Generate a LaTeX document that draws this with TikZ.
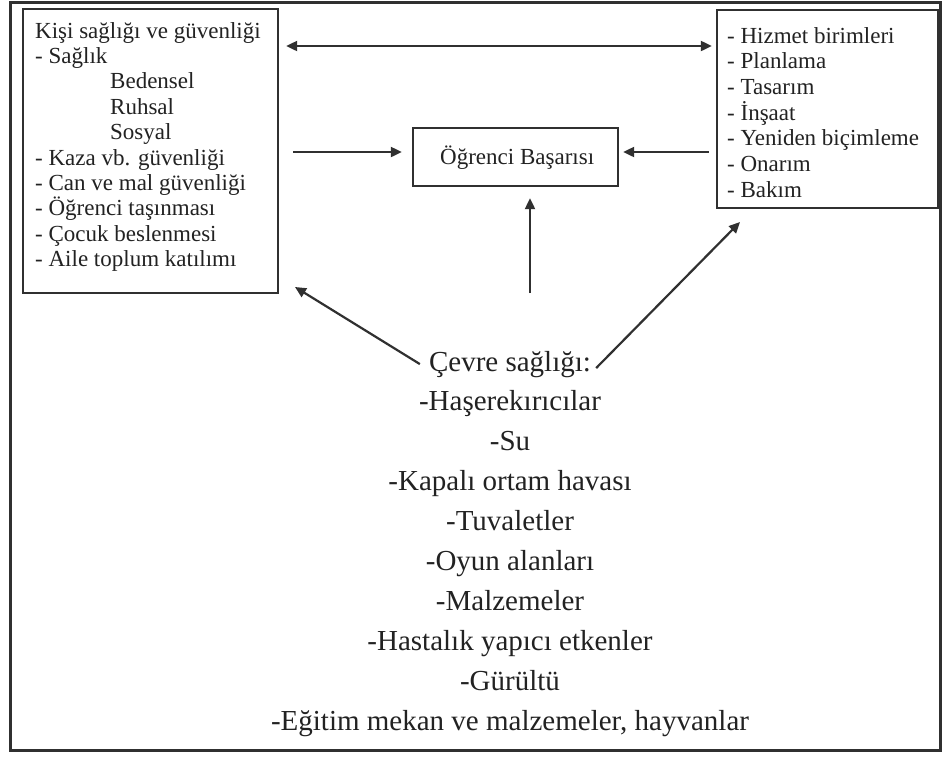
\documentclass[tikz,border=0pt]{standalone}
\usepackage{fontspec}
\setmainfont{Liberation Serif}
\usetikzlibrary{arrows.meta}
\definecolor{ink}{HTML}{222222}
\definecolor{edge}{HTML}{303030}
\begin{document}
\begin{tikzpicture}[x=1pt,y=-1pt,
  box/.style={draw=edge,line width=2.4pt,inner sep=0pt,rectangle},
  arr/.style={draw=edge,line width=2.2pt,-{Triangle[length=11pt,width=10pt]}},
  darr/.style={draw=edge,line width=2.2pt,{Triangle[length=11pt,width=10pt]}-{Triangle[length=11pt,width=10pt]}},
  txt/.style={inner sep=0pt,anchor=base west,text=ink,font=\fontsize{23}{26}\selectfont},
  big/.style={inner sep=0pt,anchor=base,text=ink,font=\fontsize{29}{34}\selectfont}]
\useasboundingbox (0,0) rectangle (945,756);
\fill[white] (0,0) rectangle (945,756);
\node[draw=edge,line width=3pt,minimum width=930pt,minimum height=748pt,inner sep=0pt] (frame) at (475,376) {};
% boxes
\node[box,minimum width=255pt,minimum height=284pt] (L) at (150.5,151) {};
\node[box,minimum width=205pt,minimum height=58pt] (C) at (515.5,157) {};
\node[box,minimum width=221pt,minimum height=198pt] (R) at (827.5,109) {};
% left box text
\foreach \xx/\t [count=\i from 0] in {35/Kişi sağlığı ve güvenliği,35/- Sağlık,110/Bedensel,110/Ruhsal,110/Sosyal,35/- Kaza vb. güvenliği,35/- Can ve mal güvenliği,35/- Öğrenci taşınması,35/- Çocuk beslenmesi,35/- Aile toplum katılımı}
  \node[txt] (lt\i) at ({\xx},{38+25.4*\i}) {\t};
% right box text
\foreach \t [count=\i from 0] in {- Hizmet birimleri,- Planlama,- Tasarım,- İnşaat,- Yeniden biçimleme,- Onarım,- Bakım}
  \node[txt] (rt\i) at (727,{43+25.7*\i}) {\t};
% center text
\node[txt] (ct) at (440,164) {Öğrenci Başarısı};
% bottom text
\node[big] (E) at (510,371) {Çevre sağlığı:};
\node[big] (b1) at (510,410) {-Haşerekırıcılar};
\node[big] (b2) at (510,450) {-Su};
\node[big] (b3) at (510,490) {-Kapalı ortam havası};
\node[big] (b4) at (510,530) {-Tuvaletler};
\node[big] (b5) at (510,570) {-Oyun alanları};
\node[big] (b6) at (510,610) {-Malzemeler};
\node[big] (b7) at (510,650) {-Hastalık yapıcı etkenler};
\node[big] (b8) at (510,690) {-Gürültü};
\node[big] (b9) at (510,730) {-Eğitim mekan ve malzemeler, hayvanlar};
% connectors
\coordinate (vs) at (530,293);
\coordinate (tl) at (295,287);
\coordinate (tr) at (740,222);
\draw[darr,shorten <=7pt,shorten >=4pt] (L.east |- 0,46) -- (R.west |- 0,46);
\draw[arr,shorten <=14pt,shorten >=10pt] (L.east |- 0,152) -- (C.west |- 0,152);
\draw[arr,shorten <=7pt,shorten >=4pt] (R.west |- 0,152) -- (C.east |- 0,152);
\draw[arr,shorten >=11pt] (vs) -- (C.south -| vs);
\draw[arr] ([xshift=-9pt]E.west) -- (tl);
\draw[arr] ([xshift=5pt,yshift=-4pt]E.east) -- (tr);
\end{tikzpicture}
\end{document}
